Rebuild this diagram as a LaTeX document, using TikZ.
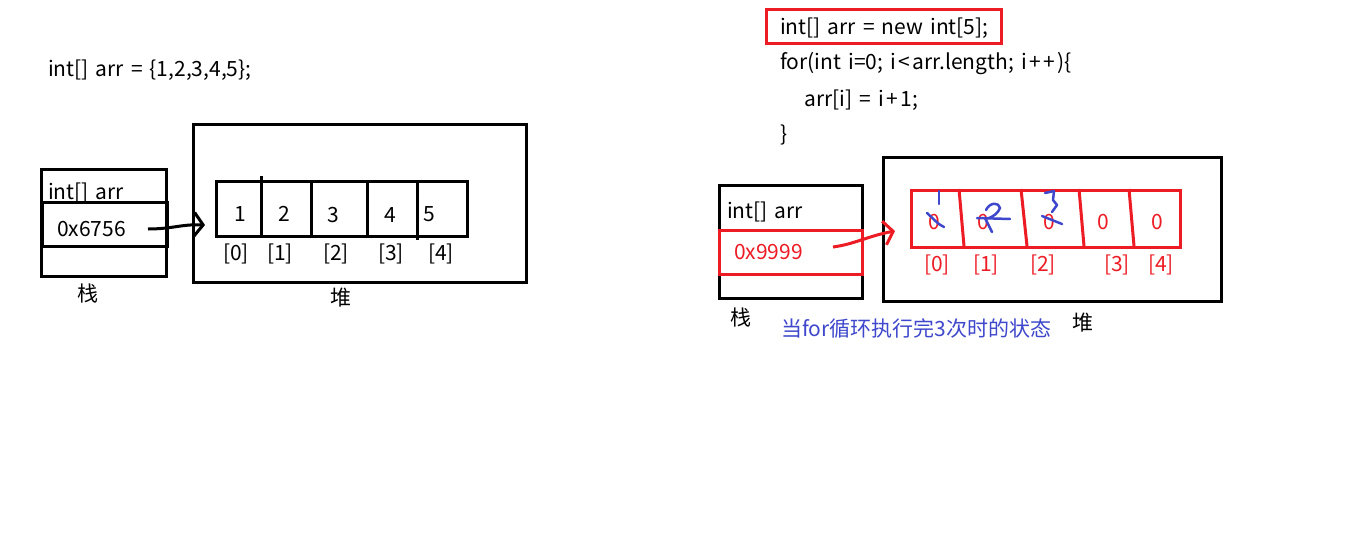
\documentclass[tikz,border=0pt]{standalone}
\usepackage{fontspec}
\setmainfont{Noto Sans CJK SC}[WordSpace=1.5]
\usetikzlibrary{arrows.meta}
\definecolor{pred}{RGB}{237,28,36}
\definecolor{pblue}{RGB}{63,72,204}
\newcommand{\gp}{\hspace{2.5pt}}
\begin{document}
\begin{tikzpicture}[x=1pt,y=-1pt,
  box/.style={draw=black, line width=3pt, inner sep=0pt, anchor=north west},
  rbox/.style={draw=pred, line width=3pt, inner sep=0pt, anchor=north west},
  bline/.style={draw=black, line width=3pt},
  rline/.style={draw=pred, line width=3pt},
  scrib/.style={draw=pblue, line width=2.5pt, line cap=round, line join=round},
  txt/.style={anchor=west, inner sep=0pt, font=\fontsize{21}{24}\selectfont},
  ctxt/.style={anchor=center, inner sep=0pt, font=\fontsize{21}{24}\selectfont},
  tip/.style={-{Straight Barb[length=9pt, width=24pt]}}]
\useasboundingbox (0,0) rectangle (1352,536);
\fill[white] (0,0) rectangle (1352,536);

% ---------- left diagram ----------
\node[txt] (declL) at (48,70) {int[] arr = \{1,2,3,4,5\};};
\node[box, minimum width=125pt, minimum height=107pt] (stackL) at (40,168) {};
\node[txt] (varL) at (48,193) {int[] arr};
\node[box, minimum width=125pt, minimum height=44pt] (cellL) at (41,201) {};
\node[txt] (addrL) at (57,229) {0x6756};
\coordinate (startL) at (148,229);
\node[box, minimum width=333pt, minimum height=158pt] (heapL) at (192,123) {};
\node[box, minimum width=251pt, minimum height=55pt] (arrL) at (215,180) {};
\draw[bline] (261,176) -- (261,235);
\draw[bline] (311,180) -- (311,235);
\draw[bline] (367,180) -- (367,235);
\draw[bline] (417,180) -- (417,240);
\node[ctxt] (vL0) at (240,214) {1};
\node[ctxt] (vL1) at (284,214) {2};
\node[ctxt] (vL2) at (333,215) {3};
\node[ctxt] (vL3) at (390,215) {4};
\node[ctxt] (vL4) at (429,214) {5};
\node[ctxt] (iL0) at (236,254) {[0]};
\node[ctxt] (iL1) at (280,254) {[1]};
\node[ctxt] (iL2) at (336,254) {[2]};
\node[ctxt] (iL3) at (391,254) {[3]};
\node[ctxt] (iL4) at (441,254) {[4]};
\node[ctxt] (zhanL) at (88,294) {栈};
\node[ctxt] (duiL) at (341,298) {堆};
\draw[bline, tip] (startL) .. controls (172,229) and (182,224) .. ([xshift=-10pt,yshift=-16pt]arrL.west);

% ---------- right diagram ----------
\node[rbox, minimum width=235pt, minimum height=34pt] (codebox) at (765,8) {};
\node[txt] (code1) at (780,28) {int[] arr = new int[5];};
\node[txt] (code2) at (780,64) {for(int i=0; i\gp<\gp arr.length; i\gp+\gp+\gp)\{};
\node[txt] (code3) at (804,100) {arr[i] = i\gp+\gp1;};
\node[txt] (code4) at (780,135) {\}};

\node[box, minimum width=143pt, minimum height=113pt] (stackR) at (718,184) {};
\node[txt] (varR) at (727,212) {int[] arr};
\node[rbox, minimum width=143pt, minimum height=44pt] (cellR) at (718,229) {};
\node[txt, text=pred] (addrR) at (734,252) {0x9999};
\coordinate (startR) at (833,247);
\node[box, minimum width=338pt, minimum height=144pt] (heapR) at (882,156) {};
\node[rbox, minimum width=269pt, minimum height=57pt] (arrR) at (910,189) {};
\draw[rline] (959,189) -- (964,246);
\draw[rline] (1021,189) -- (1027,246);
\draw[rline] (1079,189) -- (1084,246);
\draw[rline] (1129,189) -- (1134,246);
\node[ctxt, text=pred] (vR0) at (934,222) {0};
\node[ctxt, text=pred] (vR1) at (983,222) {0};
\node[ctxt, text=pred] (vR2) at (1049,222) {0};
\node[ctxt, text=pred] (vR3) at (1103,222) {0};
\node[ctxt, text=pred] (vR4) at (1157,222) {0};
\node[ctxt, text=pred] (iR0) at (937,265) {[0]};
\node[ctxt, text=pred] (iR1) at (986,265) {[1]};
\node[ctxt, text=pred] (iR2) at (1043,265) {[2]};
\node[ctxt, text=pred] (iR3) at (1117,265) {[3]};
\node[ctxt, text=pred] (iR4) at (1161,265) {[4]};
\node[ctxt] (zhanR) at (741,318) {栈};
\node[ctxt] (duiR) at (1083,323) {堆};
\node[txt, text=pblue] (note) at (781,329) {当for循环执行完3次时的状态};
\draw[rline, tip] (startR) .. controls (855,244) and (868,236) .. ([xshift=-15pt,yshift=-12pt]arrR.west);

% blue handwritten corrections
\draw[scrib] (939,191) -- (939,204);
\draw[scrib] (927,213) .. controls (933,218) and (937,224) .. (944,227);
\draw[scrib] (986,210) .. controls (990,202) and (999,202) .. (1000,208) .. controls (998,213) and (994,216) .. (989,218);
\draw[scrib] (977,218) -- (1010,219);
\draw[scrib] (985,218) -- (992,232);
\draw[scrib] (1045,193) -- (1054,191) -- (1053,200) -- (1057,205) -- (1052,212);
\draw[scrib] (1042,216) -- (1062,224);
\end{tikzpicture}
\end{document}
